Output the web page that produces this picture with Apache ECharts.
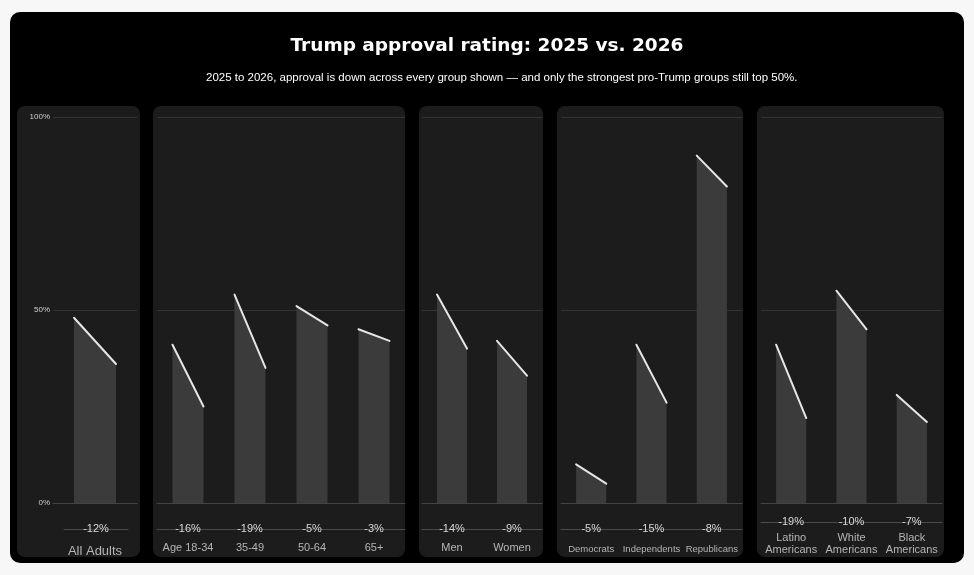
<!DOCTYPE html>
<html>
<head>
<meta charset="utf-8">
<script src="https://cdn.jsdelivr.net/npm/echarts@6/dist/echarts.min.js"></script>
<style>
html,body{margin:0;padding:0;background:#f7f7f7;}
#chart{width:974px;height:575px;}
</style>
</head>
<body>
<div id="chart"></div>
<script>
// ---- data ----
const titleText = 'Trump approval rating: 2025 vs. 2026';
const subtitleText = '2025 to 2026, approval is down across every group shown \u2014 and only the strongest pro-Trump groups still top 50%.';
const panelCategories = [
  ['All Adults'],
  ['Age 18-34', '35-49', '50-64', '65+'],
  ['Men', 'Women'],
  ['Democrats', 'Independents', 'Republicans'],
  ['Latino\nAmericans', 'White\nAmericans', 'Black\nAmericans']
];
const approval2025 = [
  [48],
  [41, 54, 51, 45],
  [54, 42],
  [10, 41, 90],
  [41, 55, 28]
];
const approval2026 = [
  [36],
  [25, 35, 46, 42],
  [40, 33],
  [5, 26, 82],
  [22, 45, 21]
];

// ---- layout (pixels) ----
const panels = [
  {x: 17, w: 123, gl: 53, gw: 84, chgL: 64, chgW: 64, catSize: 13, catMargin: 48, chgOff: 26},
  {x: 153, w: 252, gl: 157, gw: 248, catSize: 11, catMargin: 45, chgOff: 26},
  {x: 419, w: 124, gl: 422, gw: 120, catSize: 11, catMargin: 45, chgOff: 26},
  {x: 557, w: 186, gl: 561, gw: 181, catSize: 9.5, catMargin: 46, chgOff: 26},
  {x: 757, w: 187, gl: 761, gw: 181, catSize: 11, catMargin: 41, chgOff: 19}
];
const gridTop = 117, gridBottom = 72;
const panelTop = 106, panelH = 451;
const FONT = 'Liberation Sans, Arial, sans-serif';

const grids = [], xAxes = [], yAxes = [], series = [];
const graphics = [
  {type: 'rect', shape: {x: 10, y: 12, width: 954, height: 551, r: 10}, style: {fill: '#000'}, z: -20, silent: true}
];

panels.forEach((p, i) => {
  graphics.push({type: 'rect', shape: {x: p.x, y: panelTop, width: p.w, height: panelH, r: 8}, style: {fill: '#1c1c1c'}, z: -10, silent: true});
  const cats = panelCategories[i];
  const changes = cats.map((c, j) => {
    const d = approval2026[i][j] - approval2025[i][j];
    return (d > 0 ? '+' : '') + d + '%';
  });
  const gi = grids.length;
  grids.push({left: p.gl, width: p.gw, top: gridTop, bottom: gridBottom});
  xAxes.push({
    type: 'category', gridIndex: gi, data: cats, position: 'bottom',
    axisLine: {show: true, onZero: false, lineStyle: {color: '#444', width: 1}},
    axisTick: {show: false},
    axisLabel: {color: '#b5b5b5', fontSize: p.catSize, margin: p.catMargin, verticalAlign: 'middle', lineHeight: 12, interval: 0, fontFamily: FONT}
  });
  yAxes.push({
    type: 'value', gridIndex: gi, min: 0, max: 100, interval: 50,
    axisLine: {show: false}, axisTick: {show: false},
    splitLine: {show: true, lineStyle: {color: '#333', width: 1}},
    axisLabel: {show: i === 0, formatter: '{value}%', color: '#cfcfcf', fontSize: 8, margin: 3, fontFamily: FONT}
  });
  let cgi = gi;
  if (p.chgL !== undefined) {
    cgi = grids.length;
    grids.push({left: p.chgL, width: p.chgW, top: gridTop, bottom: gridBottom});
    yAxes.push({type: 'value', gridIndex: cgi, min: 0, max: 100, axisLine: {show: false}, axisTick: {show: false}, axisLabel: {show: false}, splitLine: {show: false}});
  }
  xAxes.push({
    type: 'category', gridIndex: cgi, data: changes, position: 'bottom', offset: p.chgOff,
    axisLine: {show: true, onZero: false, lineStyle: {color: '#4a4a4a', width: 1}},
    axisTick: {show: false},
    axisLabel: {color: '#d8d8d8', fontSize: 11, margin: 0, verticalAlign: 'middle', interval: 0, fontFamily: FONT}
  });
  series.push({
    type: 'custom', xAxisIndex: xAxes.length - 2, yAxisIndex: gi,
    data: cats.map((c, j) => [j, approval2025[i][j], approval2026[i][j]]),
    renderItem: function (params, api) {
      const idx = api.value(0);
      const b = api.coord([idx, 0]);
      const t1 = api.coord([idx, api.value(1)]);
      const t2 = api.coord([idx, api.value(2)]);
      const cw = api.size([1, 0])[0];
      const hw = cw * 0.25;
      const xl = b[0] - hw, xr = b[0] + hw;
      return {
        type: 'group',
        children: [
          {type: 'polygon', shape: {points: [[xl, b[1]], [xl, t1[1]], [xr, t2[1]], [xr, b[1]]]}, style: {fill: '#3b3b3b'}},
          {type: 'line', shape: {x1: xl, y1: t1[1], x2: xr, y2: t2[1]}, style: {stroke: '#e6e6e6', lineWidth: 2, lineCap: 'round'}}
        ]
      };
    }
  });
});

const chart = echarts.init(document.getElementById('chart'));
chart.setOption({
  backgroundColor: 'transparent',
  animation: false,
  title: [
    {text: titleText, left: 'center', top: 32, textStyle: {color: '#fff', fontSize: 18.5, fontWeight: 900, fontFamily: 'DejaVu Sans, Arial, sans-serif'}},
    {text: subtitleText, left: 201, top: 67, textStyle: {color: '#fff', fontSize: 11.5, fontWeight: 'normal', fontFamily: FONT}}
  ],
  graphic: graphics,
  grid: grids,
  xAxis: xAxes,
  yAxis: yAxes,
  series: series
});
</script>
</body>
</html>
